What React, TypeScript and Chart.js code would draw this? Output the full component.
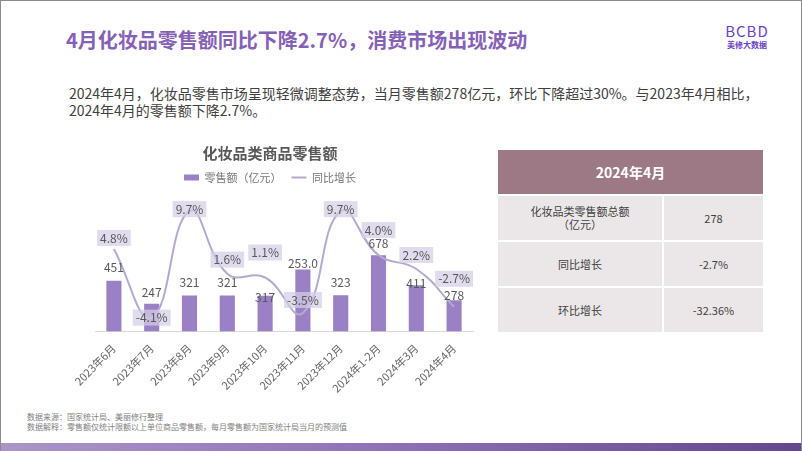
import React, { useEffect, useRef } from "react";
import { Chart, registerables } from "chart.js";

Chart.register(...registerables);

const months = ["2023年6月", "2023年7月", "2023年8月", "2023年9月", "2023年10月", "2023年11月", "2023年12月", "2024年1-2月", "2024年3月", "2024年4月"];
const salesValues = [451, 247, 321, 321, 317, 552, 323, 678, 411, 278];
const salesLabels = ["451", "247", "321", "321", "317", "253.0", "323", "678", "411", "278"];
const yoyGrowth = [4.8, -4.1, 9.7, 1.6, 1.1, -3.5, 9.7, 4.0, 2.2, -2.7];
const barLabelOffsets = [-13, -11, -13, -13, 2, -6, -13, -12, -2, -5];
const growthLabelOffsets = [-11, 0, -2, -14, -25, -13, -2, -25, -14, -28];

const tableHeader = "2024年4月";
const tableRows = [
  ["化妆品类零售额总额\n（亿元）", "278"],
  ["同比增长", "-2.7%"],
  ["环比增长", "-32.36%"],
];

const FONT = '"Noto Sans CJK SC", "Noto Sans", sans-serif';
const BAR_COLOR = "#9a81c5";
const LINE_COLOR = "#b4aacf";

const labelPlugin = {
  id: "valueLabels",
  afterDatasetsDraw(chart: any) {
    const ctx = chart.ctx;
    const barMeta = chart.getDatasetMeta(0);
    const lineMeta = chart.getDatasetMeta(1);
    ctx.save();
    ctx.font = `12px ${FONT}`;
    ctx.textAlign = "center";
    ctx.textBaseline = "middle";
    barMeta.data.forEach((el: any, i: number) => {
      ctx.fillStyle = "#595959";
      ctx.fillText(salesLabels[i], el.x, el.y + barLabelOffsets[i]);
    });
    lineMeta.data.forEach((el: any, i: number) => {
      const t = yoyGrowth[i].toFixed(1) + "%";
      const w = ctx.measureText(t).width + 6;
      const cy = el.y + growthLabelOffsets[i];
      ctx.fillStyle = "rgba(212,205,230,0.72)";
      ctx.fillRect(el.x - w / 2, cy - 8, w, 16);
      ctx.fillStyle = "#595959";
      ctx.fillText(t, el.x, cy);
    });
    ctx.restore();
  },
};

function SalesChart() {
  const ref = useRef<HTMLCanvasElement>(null);
  useEffect(() => {
    if (!ref.current) return;
    const chart = new Chart(ref.current, {
      type: "bar",
      data: {
        labels: months,
        datasets: [
          {
            type: "bar",
            label: "零售额（亿元）",
            data: salesValues,
            backgroundColor: BAR_COLOR,
            barPercentage: 0.8,
            categoryPercentage: 0.5,
            yAxisID: "yBar",
            order: 2,
            pointStyle: "rect",
          } as any,
          {
            type: "line",
            label: "同比增长",
            data: yoyGrowth,
            borderColor: LINE_COLOR,
            backgroundColor: LINE_COLOR,
            borderWidth: 2,
            tension: 0.45,
            pointRadius: 0,
            yAxisID: "yLine",
            order: 1,
            clip: false,
            pointStyle: "line",
          } as any,
        ],
      },
      options: {
        animation: false,
        responsive: false,
        maintainAspectRatio: false,
        layout: { padding: { left: 16, right: 16, top: 0, bottom: 0 } },
        plugins: {
          tooltip: { enabled: false },
          title: {
            display: true,
            text: "化妆品类商品零售额",
            color: "#595959",
            font: { family: FONT, size: 15, weight: "bold" },
            padding: { top: 3, bottom: 0 },
          },
          legend: {
            display: true,
            labels: {
              usePointStyle: true,
              pointStyleWidth: 15,
              boxHeight: 6,
              color: "#767676",
              padding: 10,
              font: { family: FONT, size: 11 },
              sort: (a: any, b: any) => a.datasetIndex - b.datasetIndex,
            },
          },
        },
        scales: {
          x: {
            grid: { display: false },
            border: { color: "#d9d9d9" },
            ticks: {
              color: "#666666",
              font: { family: FONT, size: 11 },
              maxRotation: 45,
              minRotation: 45,
              autoSkip: false,
              padding: 2,
            },
            afterFit: (scale: any) => {
              scale.paddingLeft = 44;
            },
          },
          yBar: { display: false, min: 0, max: 1232 },
          yLine: { display: false, min: -5.9, max: 12.05 },
        },
      },
      plugins: [labelPlugin],
    });
    return () => chart.destroy();
  }, []);
  return <canvas ref={ref} width={438} height={256} style={{ position: "absolute", left: 50, top: 140, width: 438, height: 256 }} />;
}

export default function App() {
  return (
    <div
      style={{
        position: "absolute",
        left: 0,
        top: 0,
        width: 802,
        height: 451,
        boxSizing: "border-box",
        borderTop: "1px solid #8c8c8c",
        borderLeft: "1px solid #8c8c8c",
        borderRight: "1px solid #8c8c8c",
        background: "#ffffff",
        overflow: "hidden",
        fontFamily: FONT,
      }}
    >
      <div style={{ position: "absolute", left: 65, top: 25, fontSize: 20, fontWeight: 700, color: "#8561b6", whiteSpace: "nowrap", lineHeight: "28px" }}>
        4月化妆品零售额同比下降2.7%，消费市场出现波动
      </div>
      <div style={{ position: "absolute", left: 722, top: 22, width: 48, textAlign: "center", color: "#6a3fc9" }}>
        <div style={{ fontSize: 15, lineHeight: "16px", letterSpacing: 1, fontWeight: 400 }}>BCBD</div>
        <div style={{ fontSize: 8, lineHeight: "12px", fontWeight: 700 }}>美修大数据</div>
      </div>
      <div style={{ position: "absolute", left: 68, top: 84, width: 700, fontSize: 14, lineHeight: "17px", color: "#404040" }}>
        2024年4月，化妆品零售市场呈现轻微调整态势，当月零售额278亿元，环比下降超过30%。与2023年4月相比，
        <br />
        2024年4月的零售额下降2.7%。
      </div>
      <SalesChart />
      <div style={{ position: "absolute", left: 497, top: 149, width: 265 }}>
        <div style={{ height: 44, background: "#9c7985", color: "#ffffff", fontWeight: 700, fontSize: 14, display: "flex", alignItems: "center", justifyContent: "center" }}>
          {tableHeader}
        </div>
        {tableRows.map((r, i) => (
          <div key={i} style={{ display: "flex", marginTop: 2, height: 44 }}>
            <div style={{ width: 164, background: "#ebe7e9", display: "flex", alignItems: "center", justifyContent: "center", textAlign: "center", fontSize: 11, color: "#404040", whiteSpace: "pre-line", lineHeight: "13px" }}>
              {r[0]}
            </div>
            <div style={{ width: 99, marginLeft: 2, background: "#ebe7e9", display: "flex", alignItems: "center", justifyContent: "center", fontSize: 11, color: "#404040" }}>
              {r[1]}
            </div>
          </div>
        ))}
      </div>
      <div style={{ position: "absolute", left: 26, top: 411, fontSize: 8, lineHeight: "10px", color: "#7f7f7f", whiteSpace: "nowrap" }}>
        <div>数据来源：国家统计局、美丽修行整理</div>
        <div>数据解释：零售额仅统计限额以上单位商品零售额，每月零售额为国家统计局当月的预测值</div>
      </div>
      <div style={{ position: "absolute", left: 0, right: 0, top: 442, height: 9, background: "linear-gradient(90deg, #ab95c9 0%, #8e6fb5 50%, #65468f 100%)" }} />
    </div>
  );
}
